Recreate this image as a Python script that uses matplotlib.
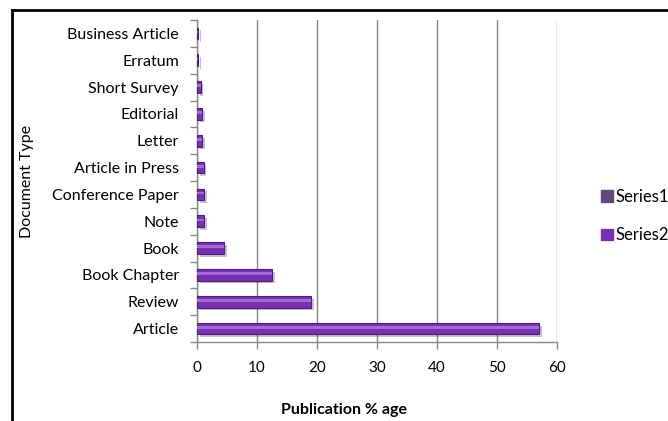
import numpy as np
import matplotlib.pyplot as plt
from matplotlib.patches import Patch
from matplotlib.lines import Line2D
import matplotlib.patheffects as pe

plt.rcParams['font.family'] = ['Lato', 'DejaVu Sans']

# belge türleri ve yüzdeler (alttan üste)
doc_types = ["Article", "Review", "Book Chapter", "Book", "Note", "Conference Paper",
             "Article in Press", "Letter", "Editorial", "Short Survey", "Erratum",
             "Business Article"]
series2 = [57.0, 19.0, 12.5, 4.5, 1.2, 1.2, 1.1, 0.9, 0.9, 0.6, 0.2, 0.2]
series_names = ["Series1", "Series2"]
x_ticks = [0, 10, 20, 30, 40, 50, 60]

fig = plt.figure(figsize=(6.68, 4.21), dpi=100)
ax = fig.add_axes([197 / 668, 1 - 342 / 421, 360 / 668, 322 / 421])

y = np.arange(len(doc_types))
bars = ax.barh(y, series2, height=0.43, color="#7832b0", edgecolor="#4f1c78", linewidth=0.8,
               zorder=3)
for b in bars:
    b.set_path_effects([pe.SimplePatchShadow(offset=(2, -2), alpha=0.25), pe.Normal()])
# parlak şerit
ax.barh(y + 0.05, series2, height=0.1, color="#a46ad8", linewidth=0, zorder=4)

ax.set_xlim(0, 60)
ax.set_ylim(-0.5, len(doc_types) - 0.5)
ax.set_xticks(x_ticks)
ax.set_yticks(y)
ax.set_yticklabels(doc_types)
ax.set_yticks(np.arange(-0.5, len(doc_types), 1), minor=True)
ax.tick_params(axis='y', which='major', length=0, pad=13, labelsize=11.5, colors='black')
ax.tick_params(axis='y', which='minor', length=5, color='#888888', width=1)
ax.tick_params(axis='x', which='major', length=5, color='#888888', width=1, pad=9,
               labelsize=11)
ax.grid(axis='x', color='#888888', linewidth=1, zorder=0)
for s in ['top', 'right']:
    ax.spines[s].set_visible(False)
for s in ['left', 'bottom']:
    ax.spines[s].set_color('#888888')
    ax.spines[s].set_linewidth(1)

fig.text(27 / 668, 1 - 181 / 421, "Document Type", fontsize=11.5, rotation=90,
         ha='center', va='center')
fig.text(344 / 668, 1 - 410 / 421, "Publication % age", fontsize=11.5, fontweight='bold',
         ha='center', va='center')

handles = [Patch(facecolor="#5d4a7e", edgecolor="#5d4a7e"),
           Patch(facecolor="#7832b0", edgecolor="#7832b0")]
fig.legend(handles, series_names, loc='upper left', bbox_to_anchor=(601 / 668, 1 - 189 / 421),
           frameon=False, fontsize=12, handlelength=0.7, handleheight=0.7,
           handletextpad=0.2, labelspacing=1.35, borderaxespad=0, borderpad=0)

# dış çerçeve
fig.add_artist(Line2D([12 / 668, 1.0], [1 - 10 / 421, 1 - 10 / 421], color='black', lw=2,
                      transform=fig.transFigure))
fig.add_artist(Line2D([12 / 668, 12 / 668], [0, 1 - 10 / 421], color='black', lw=2,
                      transform=fig.transFigure))

fig.savefig("out.png", dpi=100)
